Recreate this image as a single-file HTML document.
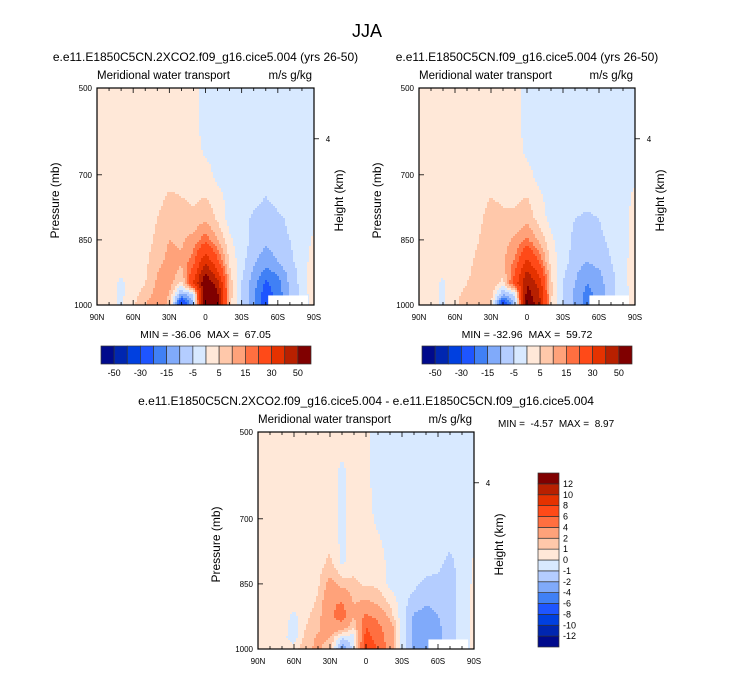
<!DOCTYPE html>
<html><head><meta charset="utf-8"><style>
body{margin:0;background:#fff;width:733px;height:673px;overflow:hidden;font-family:"Liberation Sans",sans-serif}
svg text{font-family:"Liberation Sans",sans-serif;fill:#000;white-space:pre}
</style></head><body>
<svg id="fig" width="733" height="673" viewBox="0 0 733 673" xmlns="http://www.w3.org/2000/svg">
<text x="367" y="37" font-size="18" text-anchor="middle">JJA</text>
</svg>
<script>
const lats=["90N","80N","70N","60N","50N","40N","30N","20N","10N","0","10S","20S","30S","40S","50S","60S","70S","80S","90S"];
const pressures=[500,600,650,700,750,800,850,900,925,950,975,1000];
const xTickLabels=["90N","60N","30N","0","30S","60S","90S"];
const yTickLabels=[500,700,850,1000];
const levelsAB=[-50,-40,-30,-20,-15,-10,-5,0,5,10,15,20,30,40,50];
const cbLabelsAB=["-50","-30","-15","-5","5","15","30","50"];
const levelsC=[-12,-10,-8,-6,-4,-2,-1,0,1,2,4,6,8,10,12];
const cbLabelsC=["-12","-10","-8","-6","-4","-2","-1","0","1","2","4","6","8","10","12"];
const colors=["#000a8c","#0026b0","#0040e0","#1e55ff","#4080f5","#80aafa","#b4cdff","#d8e9ff","#ffe8d8","#ffc8aa","#ffa27a","#ff6f40","#ff4a18","#e53200","#b82000","#800000"];
const dataA=[
[2,2,2,2,2,2,2,2,2,-2,-2,-2,-2,-2,-2,-2,-2,-2,-2],
[2,2,2,2,2,2,2,2,2,-2,-2,-2,-2,-2,-2,-2,-2,-2,-2],
[2,2,2,2,2,2,2,2,3,-1,-2,-2,-2,-2,-2,-2,-2,-2,-2],
[2,2,2,2,2,2,2,2,3,3,-2,-2,-2,-2,-2,-2,-2,-2,-1],
[2,2,2,2,2,3,6,5,4,5,2,-2,-2,-3,-5,-3,-2,-2,-1],
[2,2,2,2,3,5,8,7,6,9,4,-2,-3,-6,-8,-6,-4,-3,-1],
[2,2,2,2,3,6,10,9,12,18,10,1,-3,-6,-9,-7,-5,-3,1],
[2,2,2,2,4,8,12,11,18,38,22,4,-3,-9,-13,-10,-6,-3,3],
[2,2,1,2,4,10,14,8,24,50,32,6,-4,-11,-17,-14,-8,-3,4],
[2,2,-1,2,5,11,13,3,30,60,45,8,-5,-13,-21,-17,-9,-3,4],
[2,2,-1,3,7,12,10,-12,-5,65,52,8,-5,-14,-23,-18,-10,-3,3],
[2,2,-1,4,10,15,8,-32,-10,65,55,6,-5,-14,-23,-18,-10,-3,2]];
const dataB=[
[2,2,2,2,2,2,2,2,2,-2,-2,-2,-2,-2,-2,-2,-2,-2,-2],
[2,2,2,2,2,2,2,2,2,-2,-2,-2,-2,-2,-2,-2,-2,-2,-2],
[2,2,2,2,2,2,2,2,3,-1,-2,-2,-2,-2,-2,-2,-2,-2,-1],
[2,2,2,2,2,2,2,2,3,2,-2,-2,-2,-2,-2,-2,-2,-2,-1],
[2,2,2,2,2,3,5,4,4,5,1,-2,-2,-2,-3,-2,-2,-2,1],
[2,2,2,2,3,4,7,6,6,8,3,-2,-3,-5,-6,-5,-3,-2,2],
[2,2,2,2,3,5,8,8,11,16,9,1,-3,-6,-7,-6,-4,-2,2],
[2,2,2,2,4,6,9,9,16,32,20,3,-3,-7,-10,-8,-5,-2,3],
[2,2,1,3,4,7,9,7,20,42,28,5,-4,-9,-13,-11,-6,-2,3],
[2,2,-1,3,5,8,9,3,24,50,36,6,-5,-10,-15,-12,-7,-2,3],
[2,2,-1,4,6,9,8,-10,-4,55,42,6,-5,-11,-17,-13,-7,-2,2],
[2,2,-1,4,8,10,6,-30,-8,58,46,5,-5,-11,-18,-13,-7,-2,2]];
const dataC=[
[.5,.5,.5,.5,.5,.5,.5,.5,.5,.3,-.5,-.5,-.5,-.5,-.5,-.5,-.5,-.5,-.5],
[.5,.5,.5,.5,.5,.5,.5,-.3,.5,.3,-.5,-.5,-.5,-.5,-.5,-.5,-.5,-.5,-.2],
[.5,.5,.5,.5,.5,.5,.5,-.3,.5,.4,-.5,-.5,-.5,-.5,-.5,-.5,-.5,-.5,-.2],
[.5,.5,.5,.5,.5,.5,.5,-.3,.5,.5,-.3,-.5,-.5,-.5,-.5,-.5,-.5,-.5,-.2],
[.5,.5,.5,.5,.5,.5,.8,-.3,.5,.5,.2,-.5,-.5,-.5,-.5,-.6,-.8,-.5,-.2],
[.5,.5,.5,.5,.5,.6,1.2,-.2,.6,.6,.5,-.3,-.5,-.5,-.6,-.8,-1.2,-.6,.1],
[.5,.5,.5,.5,.5,.8,2.5,1.5,1.2,.8,.8,-.3,-.6,-.8,-1.2,-1.2,-1.5,-.6,.2],
[.5,.5,.5,.4,.6,1.2,3.5,4.5,2,2.5,2,1,-.6,-1.5,-2,-1.8,-1.5,-.6,.3],
[.5,.5,.5,-.3,.8,1.5,3.5,5,2,4.5,3.5,1.5,-.6,-2.2,-2.5,-2,-1.5,-.6,.2],
[.5,.5,.5,-.5,1,1.8,3,3,1,6,4.5,3,-.5,-2.5,-3,-2.2,-1.5,-.6,.2],
[.5,.5,.3,-.5,1.5,2.2,2,-1,-.5,7,5,3,-.5,-2.5,-3,-2.2,-1.5,-.6,.2],
[.5,.5,.5,.5,1.8,2.2,1.5,-3,-.5,7.5,6,3,-.5,-2.5,-3,-2.2,-1.5,-.6,.2]];

const NS="http://www.w3.org/2000/svg";
const fig=document.getElementById('fig');
function mk(tag,attrs,parent){const e=document.createElementNS(NS,tag);for(const k in attrs)e.setAttribute(k,attrs[k]);(parent||fig).appendChild(e);return e;}
function txt(x,y,s,size,anchor,parent,rot){const t=mk('text',{x:x,y:y,'font-size':size,'text-anchor':anchor||'middle'},parent);if(rot)t.setAttribute('transform','rotate(-90 '+x+' '+y+')');t.textContent=s;return t;}
function levelIndex(v,levels){let i=0;while(i<levels.length&&v>=levels[i])i++;return i;}
function sample(data,fx,p){
  let r=0;while(r<pressures.length-2&&p>pressures[r+1])r++;
  const tp=Math.min(1,Math.max(0,(p-pressures[r])/(pressures[r+1]-pressures[r])));
  const c=Math.min(lats.length-2,Math.floor(fx)),tx=fx-c;
  const a=data[r][c]*(1-tx)+data[r][c+1]*tx,b=data[r+1][c]*(1-tx)+data[r+1][c+1]*tx;
  return a*(1-tp)+b*tp;
}
function panel(o){
  const g=mk('g',{});
  
  
  const X=c=>o.x+c*o.w/(lats.length-1);
  const Y=p=>o.y+(p-500)/500*o.h;
  const fill=mk('g',{},g);
  
  
  const step=2;
  for(let py=0;py<o.h;py+=step){
    const p=500+(py+step/2)/o.h*500;
    let start=0,cur=-1;
    for(let px=0;px<o.w+step;px+=step){
      let li=-2;
      if(px<o.w){const fx=Math.min(lats.length-1,(px+step/2)/o.w*(lats.length-1));li=levelIndex(sample(o.data,fx,p),o.levels);}
      if(li!==cur){
        if(cur>=0){const r=mk('rect',{x:o.x+start,y:o.y+py,width:Math.min(px,o.w)-start+0.5,height:Math.min(step+0.5,o.h-py),fill:colors[cur]},fill);
          
          }
        cur=li;start=px;
      }
    }
  }
  const miss=mk('rect',{x:X(14.2),y:Y(978),width:X(17.5)-X(14.2),height:Y(1000)-Y(978),fill:'#fff'},g);
  
  
  const fr=mk('rect',{x:o.x,y:o.y,width:o.w,height:o.h,fill:'none',stroke:'#000','stroke-width':1.2},g);
  
  
  for(let i=0;i<=18;i++){
    const x=X(i),len=(i%3===0)?5:3;
    mk('line',{x1:x,x2:x,y1:o.y+o.h,y2:o.y+o.h-len,stroke:'#000','stroke-width':0.8},g);
    mk('line',{x1:x,x2:x,y1:o.y,y2:o.y+len,stroke:'#000','stroke-width':0.8},g);
  }
  xTickLabels.forEach((s,i)=>{const t=txt(X(i*3),o.y+o.h+15,s,8,'middle',g);
    
    });
  yTickLabels.forEach(p=>{mk('line',{x1:o.x,x2:o.x+5,y1:Y(p),y2:Y(p),stroke:'#000','stroke-width':0.8},g);
    const t=txt(o.x-5,Y(p)+3,String(p),8,'end',g);
    
    });
  mk('line',{x1:o.x+o.w,x2:o.x+o.w+5,y1:Y(617),y2:Y(617),stroke:'#000','stroke-width':0.8},g);
  txt(o.x+o.w+14,Y(617)+3,'4',8,'middle',g);
  const ht=txt(o.x+o.w+29,o.y+o.h/2+4,'Height (km)',12,'middle',g,true);
  
  
  const pt=txt(o.x-38,o.y+o.h/2+4,'Pressure (mb)',12,'middle',g,true);
  
  
  txt(o.x,o.y-9,'Meridional water transport',11.5,'start',g);
  txt(o.x+o.w-2,o.y-9,'m/s g/kg',11.5,'end',g);
  const tt=txt(o.x+o.w/2,o.y-27,o.title,12,'middle',g);
  
  
  return g;
}
function hbar(x,y,w,h,labels,name){
  const g=mk('g',{});
  
  
  const bw=w/colors.length;
  colors.forEach((c,i)=>{const r=mk('rect',{x:x+i*bw,y:y,width:bw,height:h,fill:c,stroke:'#333','stroke-width':0.7},g);
    
    });
  labels.forEach((s,i)=>{txt(x+(2*i+1)*bw,y+h+12,s,9,'middle',g);});
}
function vbar(x,y,w,h,labels,name){
  const g=mk('g',{});
  
  
  const bh=h/colors.length;
  colors.forEach((c,i)=>{const r=mk('rect',{x:x,y:y+h-(i+1)*bh,width:w,height:bh,fill:c,stroke:'#333','stroke-width':0.7},g);
    
    });
  labels.forEach((s,i)=>{txt(x+w+4,y+h-(i+1)*bh+3,s,9,'start',g);});
}
panel({name:'panel-2xco2',x:97,y:88,w:217,h:217,data:dataA,levels:levelsAB,title:'e.e11.E1850C5CN.2XCO2.f09_g16.cice5.004 (yrs 26-50)'});
panel({name:'panel-control',x:419,y:88,w:216,h:217,data:dataB,levels:levelsAB,title:'e.e11.E1850C5CN.f09_g16.cice5.004 (yrs 26-50)'});
panel({name:'panel-difference',x:258,y:432,w:216,h:217,data:dataC,levels:levelsC,title:'e.e11.E1850C5CN.2XCO2.f09_g16.cice5.004 - e.e11.E1850C5CN.f09_g16.cice5.004'});
txt(205.5,338,'MIN = -36.06  MAX =  67.05',10.5,'middle');
txt(527,338,'MIN = -32.96  MAX =  59.72',10.5,'middle');
txt(498,427,'MIN =  -4.57  MAX =  8.97',10,'start');
hbar(101,346,210,18,cbLabelsAB,'colorbar-top-left');
hbar(422,346,210,18,cbLabelsAB,'colorbar-top-right');
vbar(538,473,21,174,cbLabelsC,'colorbar-difference');
</script>
</body></html>
